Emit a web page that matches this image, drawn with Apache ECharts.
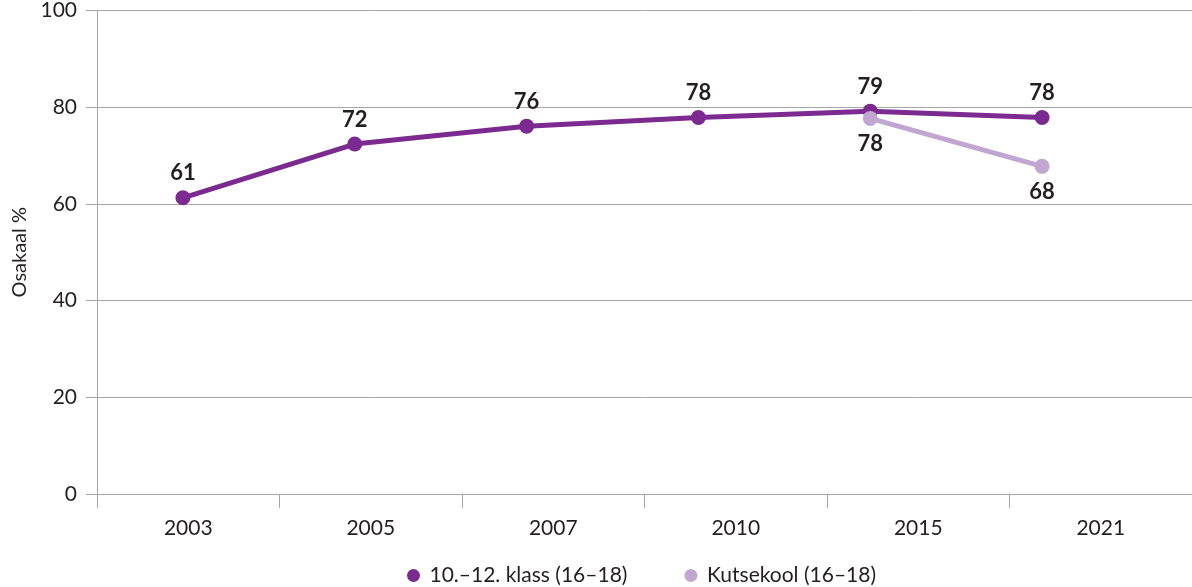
<!DOCTYPE html>
<html><head><meta charset="utf-8">
<script src="https://cdn.jsdelivr.net/npm/echarts@6/dist/echarts.min.js"></script>
<style>html,body{margin:0;padding:0;background:#fff}#c{width:1192px;height:587px}</style>
</head><body><div id="c"></div>
<script>
const years = ['2003', '2005', '2007', '2010', '2015', '2021'];
const klass = [61.2, 72.3, 76.0, 77.8, 79.1, 77.8];
const kutsekool = [null, null, null, null, 77.6, 67.7];
const seriesNames = ['10.–12. klass (16–18)', 'Kutsekool (16–18)'];
const yMin = 0, yMax = 100, yStep = 20;

const FONT = 'Lato';
const TXT = '#231f20';
const GRID = '#a6a6a6';
const C1 = '#7b2a8f';
const C2 = '#c1a6d1';

const chart = echarts.init(document.getElementById('c'), null, {renderer: 'canvas'});
const lbl = p => Math.round(p.value);
chart.setOption({
  animation: false,
  textStyle: {fontFamily: FONT, color: TXT},
  grid: [
    {left: 97, top: 10, width: 1098, height: 484},
    {left: 97, top: 10, width: 1031, height: 484}
  ],
  legend: {
    top: 560, left: 402, itemGap: 57, icon: 'circle', itemWidth: 22, itemHeight: 13,
    textStyle: {fontFamily: FONT, fontSize: 21, color: TXT},
    data: seriesNames
  },
  xAxis: [
    {type: 'category', gridIndex: 0, data: years, boundaryGap: true,
     axisLine: {show: true, lineStyle: {color: GRID, width: 1}},
     axisTick: {show: true, length: 14, lineStyle: {color: GRID}},
     axisLabel: {fontSize: 21, color: TXT, margin: 24, fontFamily: FONT},
     splitLine: {show: false}},
    {type: 'category', gridIndex: 1, data: years, boundaryGap: true, show: false}
  ],
  yAxis: [
    {type: 'value', gridIndex: 0, min: yMin, max: yMax, interval: yStep,
     name: 'Osakaal %', nameLocation: 'middle', nameGap: 66, nameRotate: 90,
     nameTextStyle: {fontSize: 20, color: TXT, fontFamily: FONT},
     axisLine: {show: true, lineStyle: {color: GRID}},
     axisTick: {show: true, length: 11, lineStyle: {color: GRID}},
     axisLabel: {fontSize: 21, color: TXT, margin: 20, fontFamily: FONT},
     splitLine: {show: true, lineStyle: {color: GRID, width: 1}}},
    {type: 'value', gridIndex: 1, min: yMin, max: yMax, show: false}
  ],
  series: [
    {name: seriesNames[0], type: 'line', xAxisIndex: 1, yAxisIndex: 1, data: klass,
     symbol: 'circle', symbolSize: 15, color: C1,
     lineStyle: {width: 5, color: C1}, itemStyle: {color: C1},
     label: {show: true, position: 'top', distance: 6, formatter: lbl,
             fontSize: 22, fontWeight: 'bold', color: TXT, fontFamily: FONT}},
    {name: seriesNames[1], type: 'line', xAxisIndex: 1, yAxisIndex: 1, data: kutsekool,
     symbol: 'circle', symbolSize: 15, color: C2,
     lineStyle: {width: 5, color: C2}, itemStyle: {color: C2},
     label: {show: true, position: 'bottom', distance: 7, formatter: lbl,
             fontSize: 22, fontWeight: 'bold', color: TXT, fontFamily: FONT}}
  ]
});
</script></body></html>
